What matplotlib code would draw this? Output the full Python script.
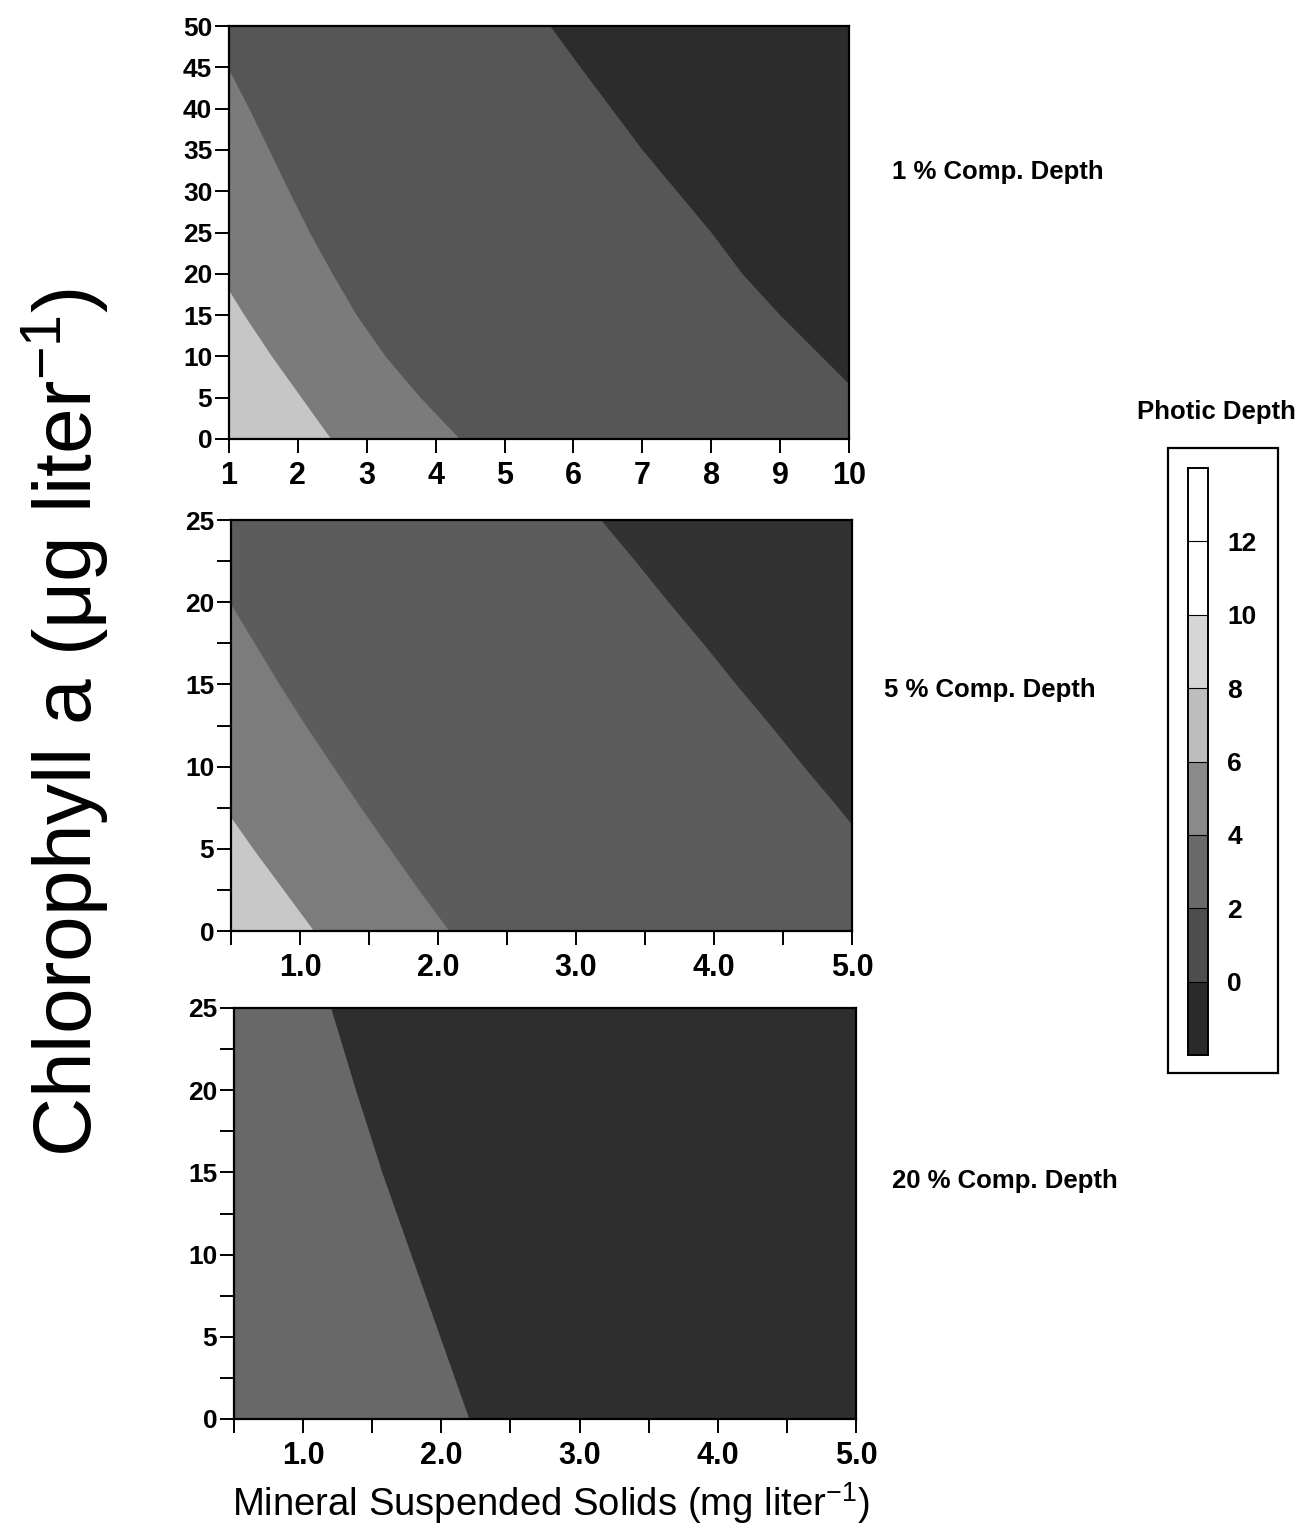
import numpy as np
import matplotlib
matplotlib.use("Agg")
import matplotlib.pyplot as plt
from matplotlib.patches import Rectangle
from matplotlib.ticker import MultipleLocator, FixedLocator

# ------------------------------------------------------------------ data
# Contour boundaries: for each chlorophyll value the
# mineral-suspended-solids value where the photic-depth band changes.

# Panel 1 : 1 % compensation depth  (MSS 1-10, Chl 0-50)
chl_top = [0, 5, 10, 15, 20, 25, 30, 35, 40, 45, 50]
top_b1 = [2.48, 2.05, 1.62, 1.22, 0.85, 0.50, 0.20, -0.10, -0.40, -0.70, -1.00]
top_b2 = [4.35, 3.78, 3.27, 2.85, 2.50, 2.17, 1.87, 1.58, 1.29, 0.98, 0.65]
top_b3 = [11.0, 10.2, 9.60, 9.00, 8.45, 8.00, 7.50, 7.00, 6.55, 6.10, 5.66]
top_colors = ["#c6c6c6", "#7b7b7b", "#565656", "#2c2c2c"]

# Panel 2 : 5 % compensation depth  (MSS 0.5-5, Chl 0-25)
chl_mid = [0, 2.5, 5, 7.5, 10, 12.5, 15, 17.5, 20, 22.5, 25]
mid_b1 = [1.10, 0.88, 0.66, 0.45, 0.25, 0.05, -0.15, -0.35, -0.55, -0.75, -0.95]
mid_b2 = [2.08, 1.86, 1.65, 1.44, 1.24, 1.04, 0.85, 0.67, 0.49, 0.32, 0.15]
mid_b3 = [5.63, 5.39, 5.14, 4.90, 4.65, 4.41, 4.16, 3.92, 3.67, 3.43, 3.18]
mid_colors = ["#c8c8c8", "#7c7c7c", "#5c5c5c", "#323232"]

# Panel 3 : 20 % compensation depth  (MSS 0.5-5, Chl 0-25)
chl_bot = [0, 5, 10, 15, 20, 25]
bot_b1 = [2.20, 1.99, 1.78, 1.57, 1.38, 1.20]
bot_colors = ["#686868", "#2e2e2e"]

panel_labels = ["1 % Comp. Depth", "5 % Comp. Depth", "20 % Comp. Depth"]

# Legend (photic depth scale)
cb_levels = [-2, 0, 2, 4, 6, 8, 10, 12, 14]
cb_colors = ["#2a2a2a", "#4e4e4e", "#6a6a6a", "#8a8a8a",
             "#bdbdbd", "#d6d6d6", "#ffffff", "#ffffff"]
cb_ticks = [0, 2, 4, 6, 8, 10, 12]

# ------------------------------------------------------------------ style
plt.rcParams["font.family"] = ["Liberation Sans", "DejaVu Sans"]
plt.rcParams["mathtext.fontset"] = "custom"
plt.rcParams["mathtext.rm"] = "Liberation Sans"
plt.rcParams["mathtext.it"] = "Liberation Sans:italic"
plt.rcParams["mathtext.bf"] = "Liberation Sans:bold"

W, H = 1302, 1528
fig = plt.figure(figsize=(W / 100, H / 100), dpi=100)


def px_axes(l, t, r, b):
    return fig.add_axes([l / W, 1 - b / H, (r - l) / W, (b - t) / H])


YT = 19   # y tick label size
XT = 22   # x tick label size


def draw_panel(ax, chl, bounds, colors, xlim, ylim):
    chl = np.asarray(chl)
    x0, x1 = xlim
    # darkest band first, then the lighter bands laid from the left
    ax.fill_betweenx(chl, x0, x1, color=colors[-1], lw=0)
    for b, c in zip(bounds[::-1], colors[-2::-1]):
        ax.fill_betweenx(chl, x0, np.asarray(b), color=c, lw=0)
    ax.set_xlim(*xlim)
    ax.set_ylim(*ylim)
    for s in ax.spines.values():
        s.set_linewidth(1.6)
        s.set_color("black")
    ax.tick_params(which="both", direction="out", length=10, width=1.4,
                   color="black")
    ax.tick_params(axis="y", pad=2)
    ax.tick_params(axis="x", pad=6)


# Panel 1
ax1 = px_axes(229, 26, 849, 439)
draw_panel(ax1, chl_top, [top_b1, top_b2, top_b3], top_colors, (1, 10), (0, 50))
ax1.set_xticks(range(1, 11))
ax1.set_xticklabels([str(v) for v in range(1, 11)], fontsize=XT,
                    fontweight="bold")
ax1.set_yticks(range(0, 51, 5))
ax1.set_yticklabels([str(v) for v in range(0, 51, 5)], fontsize=YT,
                    fontweight="bold")

# Panel 2
ax2 = px_axes(231, 520, 852, 931)
draw_panel(ax2, chl_mid, [mid_b1, mid_b2, mid_b3], mid_colors, (0.5, 5.0), (0, 25))

# Panel 3
ax3 = px_axes(234, 1008, 856, 1419)
draw_panel(ax3, chl_bot, [bot_b1], bot_colors, (0.5, 5.0), (0, 25))

for ax in (ax2, ax3):
    ax.set_xticks([1, 2, 3, 4, 5])
    ax.set_xticklabels(["1.0", "2.0", "3.0", "4.0", "5.0"], fontsize=XT,
                       fontweight="bold")
    ax.xaxis.set_minor_locator(FixedLocator([0.5, 1.5, 2.5, 3.5, 4.5]))
    ax.set_yticks([0, 5, 10, 15, 20, 25])
    ax.set_yticklabels(["0", "5", "10", "15", "20", "25"], fontsize=YT,
                       fontweight="bold")
    ax.yaxis.set_minor_locator(FixedLocator([2.5, 7.5, 12.5, 17.5, 22.5]))

# Panel labels
for txt, (x, y) in zip(panel_labels, [(892, 172), (884, 690), (892, 1181)]):
    fig.text(x / W, 1 - y / H, txt, ha="left", va="center",
             fontsize=18.5, fontweight="bold")

# Axis titles
fig.text(65 / W, 1 - 722 / H, "Chlorophyll a (\u03bcg liter$^{-1}$)",
         rotation=90, ha="center", va="center", fontsize=59)
fig.text(551 / W, 1 - 1503 / H, "Mineral Suspended Solids (mg liter$^{-1}$)",
         ha="center", va="center", fontsize=27.5)

# Legend
cax = px_axes(1188, 468, 1208, 1055)
lv = np.asarray(cb_levels)
cax.bar(0, np.diff(lv), bottom=lv[:-1], width=1.0, color=cb_colors,
        edgecolor="none")
for v in lv[1:-1]:
    cax.axhline(v, color="black", lw=0.8)
cax.set_xlim(-0.5, 0.5)
cax.set_ylim(lv[0], lv[-1])
cax.set_xticks([])
cax.set_yticks(cb_ticks)
cax.yaxis.tick_right()
cax.tick_params(axis="y", length=0, pad=14)
for lab in cax.get_yticklabels():
    lab.set_fontsize(19)
    lab.set_fontweight("bold")
for s in cax.spines.values():
    s.set_linewidth(1.4)

fig.patches.append(Rectangle((1168 / W, 1 - 1073 / H), 110 / W, 625 / H,
                             transform=fig.transFigure, fill=False,
                             lw=1.6, edgecolor="black"))
fig.text(1216 / W, 1 - 412 / H, "Photic Depth", ha="center", va="center",
         fontsize=18.5, fontweight="bold")

fig.savefig("out.png", dpi=100, facecolor="white")
